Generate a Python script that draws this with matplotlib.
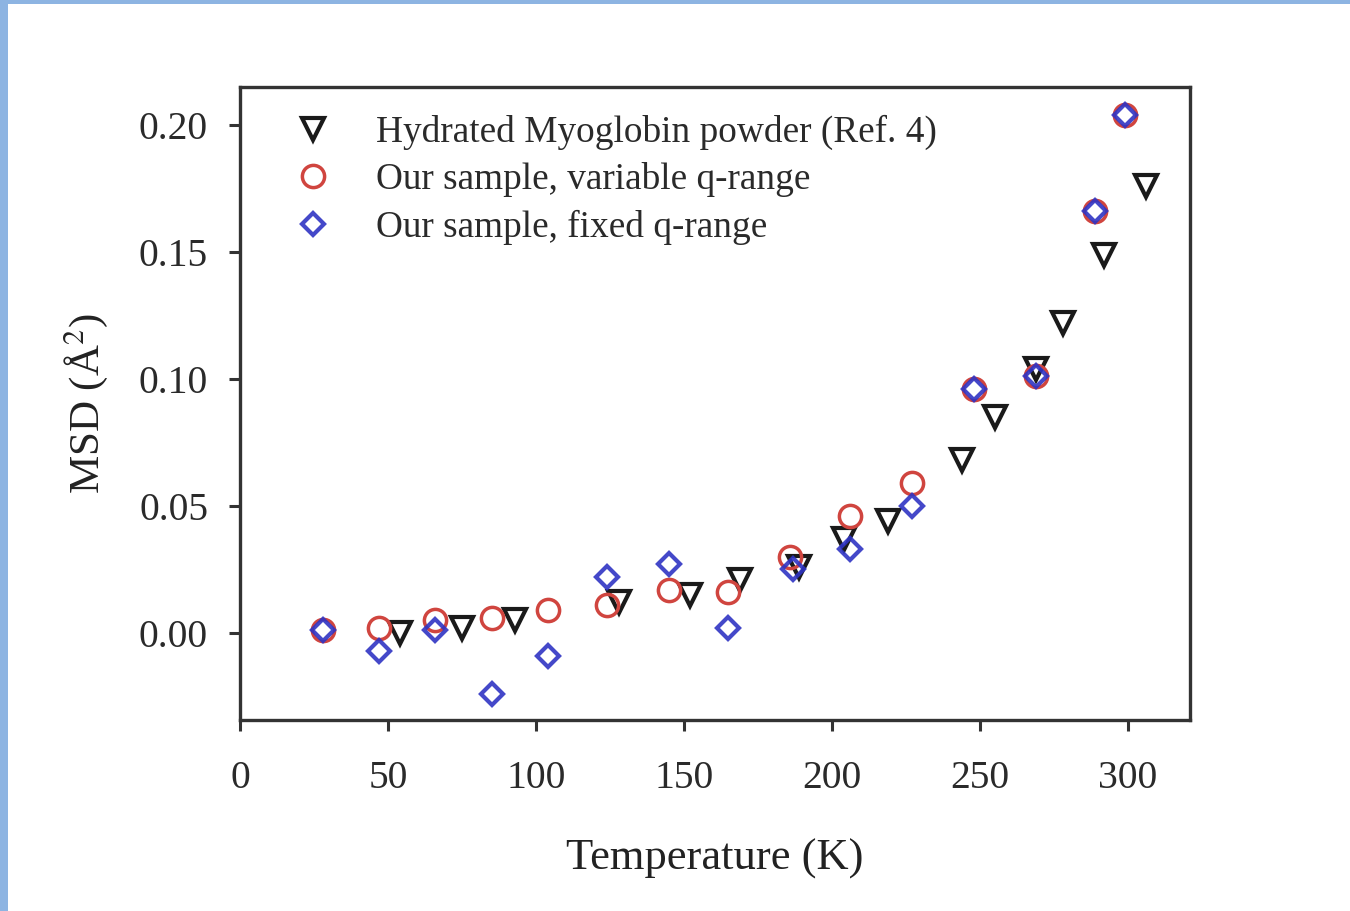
import matplotlib
matplotlib.use("Agg")
import matplotlib.pyplot as plt
from matplotlib.patches import Rectangle

plt.rcParams['font.family'] = ['Liberation Serif', 'DejaVu Serif']
plt.rcParams['mathtext.fontset'] = 'stix'

# Hydrated myoglobin powder (Ref. 4)
ref_T = [54, 75, 93, 128, 152, 169, 189, 204, 219, 244, 255, 269, 278, 292, 306]
ref_msd = [0.000, 0.002, 0.005, 0.012, 0.015, 0.021, 0.026, 0.037, 0.044, 0.068, 0.085, 0.104, 0.122, 0.149, 0.176]

# Our sample, variable q-range
var_T = [28, 47, 66, 85, 104, 124, 145, 165, 186, 206, 227, 248, 269, 289, 299]
var_msd = [0.001, 0.002, 0.005, 0.006, 0.009, 0.011, 0.017, 0.016, 0.030, 0.046, 0.059, 0.096, 0.101, 0.166, 0.204]

# Our sample, fixed q-range
fix_T = [28, 47, 66, 85, 104, 124, 145, 165, 187, 206, 227, 248, 269, 289, 299]
fix_msd = [0.001, -0.007, 0.001, -0.024, -0.009, 0.022, 0.027, 0.002, 0.025, 0.033, 0.050, 0.096, 0.101, 0.166, 0.204]

x_ticks = [0, 50, 100, 150, 200, 250, 300]
y_ticks = [0.00, 0.05, 0.10, 0.15, 0.20]

fig = plt.figure(figsize=(13.5, 9.11), dpi=100)
fig.patch.set_facecolor('white')

# light blue frame along the top and left edges
fig.patches.append(Rectangle((0, 1 - 4 / 911), 1, 4 / 911, transform=fig.transFigure,
                             facecolor='#8db4e2', edgecolor='none', zorder=0))
fig.patches.append(Rectangle((0, 0), 8 / 1350, 1, transform=fig.transFigure,
                             facecolor='#8db4e2', edgecolor='none', zorder=0))

ax = fig.add_axes([240 / 1350, 1 - 720 / 911, 950 / 1350, 633 / 911])

ax.plot(ref_T, ref_msd, linestyle='none', marker='v', markersize=16,
        markerfacecolor='none', markeredgecolor='#1a1a1a', markeredgewidth=3.0,
        label='Hydrated Myoglobin powder (Ref. 4)')
ax.plot(var_T, var_msd, linestyle='none', marker='o', markersize=16,
        markerfacecolor='none', markeredgecolor='#d0453f', markeredgewidth=2.5,
        label='Our sample, variable q-range')
ax.plot(fix_T, fix_msd, linestyle='none', marker='D', markersize=11,
        markerfacecolor='none', markeredgecolor='#2f34c4', markeredgewidth=3.0,
        alpha=0.9, label='Our sample, fixed q-range')

ax.set_xlim(0, 321)
ax.set_ylim(-0.0343, 0.215)
ax.set_xticks(x_ticks)
ax.set_yticks(y_ticks)
ax.set_yticklabels([f'{v:.2f}' for v in y_ticks])

for side in ['left', 'bottom', 'right', 'top']:
    ax.spines[side].set_linewidth(2.4)
    ax.spines[side].set_color('#333333')

ax.tick_params(axis='both', which='both', direction='out', length=8, width=2.2,
               color='#333333', labelsize=28.5, labelcolor='#2a2a2a',
               top=False, right=False)
ax.tick_params(axis='y', pad=15)
ax.tick_params(axis='x', pad=21)

ax.set_xlabel('Temperature (K)', fontsize=32, color='#222222', labelpad=30)
ax.set_ylabel('MSD (Å$^2$)', fontsize=31, color='#222222', labelpad=21)

leg = ax.legend(loc='upper left', frameon=False, fontsize=26.8, handlelength=1.0,
                handletextpad=1.17, borderaxespad=0.4, labelspacing=0.33,
                bbox_to_anchor=(0.0263, 1.003))
for t in leg.get_texts():
    t.set_color('#2a2a2a')

fig.savefig('out.png', dpi=100, facecolor='white')
